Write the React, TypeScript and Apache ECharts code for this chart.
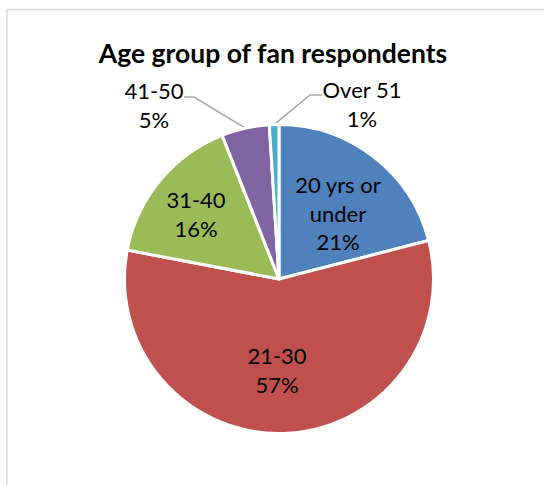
import React, { useEffect, useRef } from "react";
import * as echarts from "echarts";

const titleText = "Age group of fan respondents";
const categories = ["20 yrs or under", "21-30", "31-40", "41-50", "Over 51"];
const labelTexts = ["20 yrs or\nunder", "21-30", "31-40", "41-50", "Over 51"];
const values = [21, 57, 16, 5, 1];
const colors = ["#4F81BD", "#C0504D", "#9BBB59", "#8064A2", "#4BACC6"];

// label block centres (layout only)
const labelPos: number[][] = [
  [338, 213],
  [277, 370],
  [196, 214],
  [154, 105],
  [362, 104],
];
// leader-line elbow/end for outside labels (layout only)
const leaderPts: Record<number, number[][]> = {
  3: [
    [194, 97],
    [184, 97],
  ],
  4: [
    [310, 95],
    [322, 95],
  ],
};

export default function App() {
  const ref = useRef<HTMLDivElement>(null);
  useEffect(() => {
    if (!ref.current) return;
    const chart = echarts.init(ref.current, null, { renderer: "svg" });
    const font = "Lato, 'Noto Sans', sans-serif";
    chart.setOption({
      animation: false,
      backgroundColor: "#ffffff",
      title: {
        text: titleText,
        left: 268,
        top: 34,
        textAlign: "center",
        textStyle: {
          fontFamily: font,
          fontWeight: "bold",
          fontSize: 26.5,
          color: "#000000",
        },
      },
      graphic: [
        {
          type: "rect",
          shape: { x: 7, y: 9.5, width: 620, height: 620 },
          style: { fill: "none", stroke: "#d9d9d9", lineWidth: 1.5 },
          silent: true,
        },
      ],
      series: [
        {
          type: "pie",
          center: [279, 279],
          radius: 154.5,
          startAngle: 90,
          clockwise: true,
          avoidLabelOverlap: false,
          itemStyle: { borderColor: "#ffffff", borderWidth: 3 },
          label: {
            show: true,
            position: "inside",
            fontFamily: font,
            fontSize: 22,
            lineHeight: 28.5,
            color: "#000000",
            formatter: (p: any) => `${labelTexts[p.dataIndex]}\n${p.value}%`,
          },
          labelLine: {
            show: true,
            lineStyle: { color: "#a6a6a6", width: 1.5 },
          },
          labelLayout: (p: any) => {
            const i = p.dataIndex;
            const res: any = {
              x: labelPos[i][0],
              y: labelPos[i][1],
              align: "center",
              verticalAlign: "middle",
            };
            if (leaderPts[i] && p.labelLinePoints) {
              res.labelLinePoints = [p.labelLinePoints[0], ...leaderPts[i]];
            }
            return res;
          },
          data: categories.map((c, i) => ({
            name: c,
            value: values[i],
            itemStyle: { color: colors[i] },
            label: i >= 3 ? { position: "outside" } : undefined,
            labelLine: { show: i >= 3 },
          })),
        },
      ],
    });
    return () => chart.dispose();
  }, []);
  return (
    <div
      ref={ref}
      style={{ position: "absolute", left: 0, top: 0, width: 544, height: 485 }}
    />
  );
}
